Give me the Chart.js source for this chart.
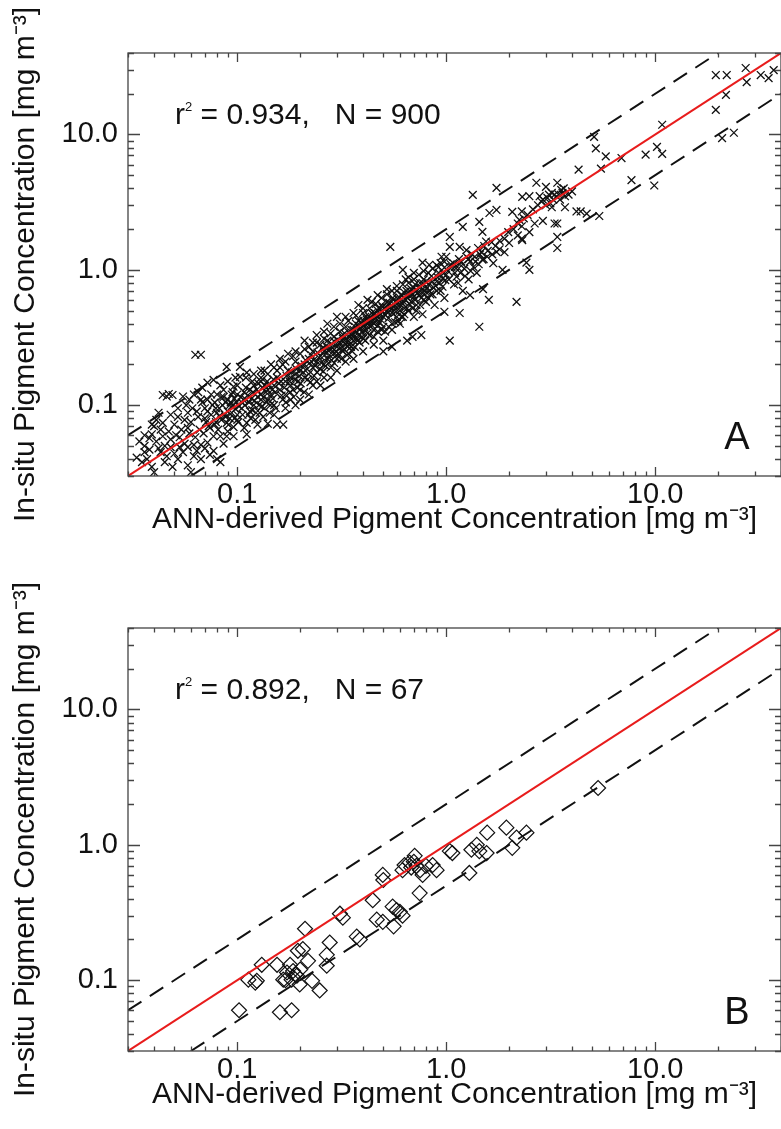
<!DOCTYPE html>
<html>
<head>
<meta charset="utf-8">
<script src="https://cdn.jsdelivr.net/npm/chart.js@4.4.1/dist/chart.umd.min.js"></script>
<style>
  html, body { margin: 0; padding: 0; background: #fff; overflow: hidden; }
  canvas { position: absolute; left: 0; }
  #chartA { top: 0; }
  #chartB { top: 560px; }
</style>
</head>
<body>
<canvas id="chartA" width="800" height="560"></canvas>
<canvas id="chartB" width="800" height="575"></canvas>
<script>
// tick positions (log axes, 0.03 .. 40) and the labelled ones
const tickVals = [0.03, 0.04, 0.05, 0.06, 0.07, 0.08, 0.09,
  0.1, 0.2, 0.3, 0.4, 0.5, 0.6, 0.7, 0.8, 0.9,
  1, 2, 3, 4, 5, 6, 7, 8, 9, 10, 20, 30, 40];
const majorVals = [0.1, 1, 10];
const majorLabels = ['0.1', '1.0', '10.0'];

const xTitle = 'ANN-derived Pigment Concentration [mg m⁻³]';
const yTitle = 'In-situ Pigment Concentration [mg m⁻³]';

// panel statistics
const statR2 = ['0.934', '0.892'];
const statN = ['900', '67'];
const panelLetters = ['A', 'B'];

// reference lines: 1:1 and factor-of-two
const oneX = [0.03, 40], oneY = [0.03, 40];
const upX = [0.03, 20], upY = [0.06, 40];
const loX = [0.06, 40], loY = [0.03, 20];

// panel A: ANN-derived vs in-situ (subset of the cloud)
const ptsA = [
  [0.034,0.054],[0.039,0.061],[0.036,0.045],[0.037,0.040],[0.041,0.054],[0.044,0.059],[0.046,0.042],
  [0.044,0.074],[0.042,0.088],[0.046,0.116],[0.049,0.119],[0.055,0.116],[0.052,0.082],[0.058,0.088],
  [0.048,0.049],[0.053,0.049],[0.058,0.049],[0.062,0.051],[0.067,0.051],[0.072,0.053],[0.077,0.059],
  [0.083,0.059],[0.089,0.059],[0.096,0.059],[0.067,0.040],[0.058,0.036],[0.049,0.035],[0.040,0.032],
  [0.067,0.110],[0.072,0.147],[0.077,0.154],[0.086,0.130],[0.096,0.137],[0.103,0.162],[0.111,0.174],
  [0.072,0.110],[0.080,0.088],[0.089,0.074],[0.096,0.069],[0.111,0.074],[0.122,0.078],[0.103,0.192],
  [0.089,0.192],[0.063,0.236],[0.067,0.236],[0.083,0.038],[0.060,0.032],[0.080,0.040],[0.111,0.061],
  [0.044,0.119],[0.047,0.121],
  [0.035,0.038],[0.036,0.050],[0.038,0.047],[0.039,0.035],[0.040,0.070],[0.041,0.078],[0.043,0.066],
  [0.045,0.050],[0.047,0.064],[0.050,0.072],[0.051,0.060],[0.054,0.066],[0.056,0.078],[0.057,0.100],
  [0.059,0.110],[0.061,0.095],[0.062,0.120],[0.065,0.125],[0.068,0.105],[0.070,0.080],[0.073,0.070],
  [0.076,0.100],[0.079,0.075],[0.082,0.083],[0.084,0.115],[0.087,0.085],[0.092,0.080],[0.094,0.120],
  [0.098,0.094],[0.100,0.078],[0.052,0.040],[0.055,0.045],[0.064,0.046],[0.070,0.048],[0.074,0.043],
  [0.086,0.052],[0.090,0.064],[0.033,0.041],[0.038,0.057],[0.043,0.045],
  [0.042,0.048],[0.045,0.038],[0.048,0.056],[0.050,0.044],[0.053,0.058],[0.056,0.052],[0.059,0.062],
  [0.063,0.058],[0.066,0.066],[0.069,0.062],[0.071,0.075],[0.074,0.068],[0.078,0.072],[0.081,0.066],
  [0.084,0.078],[0.088,0.082],[0.091,0.072],[0.094,0.088],[0.097,0.080],[0.065,0.082],[0.072,0.090],
  [0.079,0.095],[0.086,0.115],[0.093,0.105],[0.058,0.068],[0.052,0.095],[0.048,0.085],[0.068,0.135],
  [0.075,0.120],[0.083,0.140],[0.090,0.150],[0.098,0.160],[0.036,0.060],[0.039,0.072],[0.062,0.042],
  [0.077,0.046],
  [0.085,0.10],[0.09,0.11],[0.095,0.10],[0.10,0.12],[0.105,0.095],[0.11,0.11],[0.115,0.13],[0.12,0.10],
  [0.125,0.115],[0.10,0.085],[0.09,0.09],[0.08,0.12],[0.078,0.105],[0.13,0.12],[0.135,0.14],[0.14,0.11],
  [0.12,0.14],[0.13,0.16],[0.06,0.075],[0.064,0.09],[0.07,0.095],[0.075,0.085],[0.105,0.105],[0.108,0.125],
  [0.115,0.09],
  [0.082,0.095],[0.088,0.105],[0.092,0.100],[0.097,0.112],[0.099,0.105],[0.102,0.098],[0.104,0.115],
  [0.107,0.110],[0.109,0.100],[0.112,0.118],[0.114,0.105],[0.117,0.112],[0.119,0.125],[0.121,0.108],
  [0.124,0.130],[0.127,0.100],[0.129,0.120],[0.132,0.135],[0.134,0.115],[0.137,0.125],[0.139,0.150],
  [0.142,0.140],[0.144,0.100],[0.147,0.130],[0.149,0.155],[0.110,0.135],[0.100,0.140],[0.095,0.125],
  [0.118,0.150],[0.126,0.145],[0.106,0.085],[0.116,0.080],[0.128,0.088],[0.133,0.082],
  [0.101,0.075],[0.108,0.068],[0.113,0.085],[0.118,0.092],[0.123,0.088],[0.131,0.098],[0.138,0.105],
  [0.143,0.088],[0.148,0.112],[0.153,0.095],[0.163,0.118],[0.171,0.105],[0.179,0.125],[0.186,0.115],
  [0.194,0.135],[0.201,0.145],[0.209,0.125],[0.217,0.155],[0.224,0.148],[0.233,0.165],[0.241,0.175],
  [0.249,0.185],[0.258,0.178],[0.265,0.195],[0.274,0.205],[0.283,0.215],[0.291,0.205],[0.299,0.235],
  [0.11,0.16],[0.12,0.17],[0.135,0.18],[0.15,0.19],[0.165,0.20],[0.185,0.23],[0.20,0.24],[0.22,0.27],
  [0.24,0.29],[0.26,0.31],[0.28,0.34],[0.29,0.38],
  [0.13,0.11],[0.13,0.15],[0.135,0.095],[0.14,0.13],[0.14,0.17],[0.145,0.12],[0.15,0.14],[0.15,0.10],
  [0.155,0.16],[0.16,0.13],[0.16,0.19],[0.165,0.11],[0.17,0.15],[0.17,0.12],[0.175,0.18],[0.18,0.14],
  [0.18,0.16],[0.185,0.13],[0.19,0.17],[0.19,0.21],[0.195,0.15],[0.20,0.18],[0.20,0.13],[0.125,0.072],
  [0.14,0.073],[0.155,0.072],[0.166,0.072],[0.145,0.20],[0.16,0.22],[0.175,0.24],[0.13,0.18],[0.15,0.085],
  [0.17,0.095],[0.19,0.10],
  [0.152,0.125],[0.158,0.145],[0.162,0.150],[0.168,0.135],[0.172,0.165],[0.178,0.150],[0.182,0.175],
  [0.188,0.155],[0.192,0.185],[0.198,0.165],[0.203,0.195],[0.207,0.175],[0.212,0.215],[0.216,0.185],
  [0.222,0.205],[0.226,0.235],[0.232,0.215],[0.236,0.195],[0.242,0.245],[0.246,0.225],[0.252,0.205],
  [0.256,0.265],[0.262,0.235],[0.266,0.275],[0.272,0.255],[0.276,0.235],[0.282,0.285],[0.286,0.265],
  [0.292,0.295],[0.296,0.250],[0.302,0.305],[0.306,0.285],[0.312,0.265],[0.316,0.325],[0.322,0.295],
  [0.326,0.340],[0.332,0.310],[0.336,0.275],[0.342,0.345],[0.346,0.320],[0.352,0.360],[0.356,0.340],
  [0.362,0.320],[0.366,0.380],[0.372,0.350],[0.376,0.300],[0.382,0.385],[0.386,0.365],[0.392,0.410],
  [0.396,0.345],[0.402,0.420],[0.406,0.375],[0.412,0.355],[0.416,0.430],[0.422,0.405],[0.426,0.455],
  [0.432,0.385],[0.436,0.440],[0.442,0.415],[0.446,0.470],[0.452,0.400],[0.456,0.480],[0.462,0.420],
  [0.466,0.455],[0.472,0.390],[0.476,0.520],[0.482,0.470],[0.486,0.430],[0.492,0.500],[0.496,0.530],
  [0.18,0.11],[0.20,0.11],[0.23,0.14],[0.26,0.16],[0.30,0.18],[0.33,0.21],[0.21,0.26],[0.23,0.29],
  [0.19,0.25],[0.33,0.45],[0.36,0.48],[0.40,0.52],[0.44,0.58],[0.17,0.21],[0.155,0.18],
  [0.21,0.20],[0.21,0.16],[0.22,0.22],[0.22,0.17],[0.23,0.19],[0.23,0.25],[0.24,0.21],[0.24,0.15],
  [0.25,0.23],[0.25,0.28],[0.26,0.20],[0.26,0.25],[0.27,0.22],[0.27,0.30],[0.28,0.26],[0.28,0.19],
  [0.29,0.24],[0.29,0.32],[0.30,0.27],[0.30,0.22],[0.31,0.35],[0.31,0.29],[0.32,0.25],[0.32,0.31],
  [0.33,0.28],[0.33,0.38],[0.34,0.30],[0.34,0.24],[0.35,0.33],[0.35,0.27],[0.22,0.12],[0.25,0.14],
  [0.28,0.16],[0.21,0.30],[0.24,0.33],[0.27,0.40],[0.30,0.45],[0.26,0.35],
  [0.305,0.24],[0.315,0.22],[0.325,0.26],[0.335,0.235],[0.345,0.28],[0.355,0.25],[0.365,0.27],
  [0.375,0.31],[0.385,0.29],[0.395,0.32],[0.41,0.30],[0.43,0.33],[0.45,0.32],[0.47,0.35],[0.49,0.36],
  [0.51,0.35],[0.53,0.38],[0.55,0.36],[0.57,0.41],[0.59,0.42],[0.61,0.45],[0.63,0.47],[0.66,0.50],
  [0.69,0.52],[0.72,0.50],[0.75,0.55],[0.78,0.60],[0.82,0.62],[0.86,0.66],[0.90,0.70],
  [0.31,0.40],[0.34,0.42],[0.37,0.46],[0.40,0.48],[0.43,0.52],[0.46,0.56],[0.49,0.62],[0.52,0.66],
  [0.55,0.70],[0.58,0.76],[0.62,0.78],[0.66,0.88],[0.70,0.85],[0.74,0.92],[0.78,0.98],[0.82,0.95],
  [0.86,1.02],[0.90,1.08],[0.94,1.12],[0.98,1.15],
  [0.36,0.36],[0.36,0.30],[0.37,0.40],[0.38,0.33],[0.38,0.42],[0.39,0.37],[0.40,0.39],[0.40,0.31],
  [0.41,0.45],[0.42,0.38],[0.42,0.34],[0.43,0.42],[0.44,0.48],[0.44,0.39],[0.45,0.36],[0.46,0.44],
  [0.47,0.50],[0.48,0.41],[0.48,0.46],[0.49,0.55],[0.50,0.45],[0.50,0.38],[0.52,0.50],[0.52,0.58],
  [0.53,0.44],[0.54,0.53],[0.55,0.48],[0.56,0.60],[0.57,0.52],[0.58,0.45],[0.59,0.57],[0.60,0.62],
  [0.60,0.50],[0.40,0.25],[0.45,0.28],[0.50,0.30],[0.38,0.55],[0.42,0.60],[0.47,0.65],[0.52,0.72],
  [0.36,0.22],
  [0.505,0.47],[0.515,0.53],[0.525,0.48],[0.535,0.57],[0.545,0.51],[0.555,0.62],[0.565,0.55],
  [0.575,0.49],[0.585,0.61],[0.595,0.54],[0.61,0.66],[0.62,0.59],[0.63,0.52],[0.645,0.70],[0.655,0.62],
  [0.665,0.56],[0.675,0.69],[0.69,0.66],[0.70,0.74],[0.71,0.60],[0.725,0.71],[0.74,0.65],[0.75,0.80],
  [0.77,0.72],[0.78,0.66],[0.80,0.82],[0.81,0.74],[0.83,0.70],[0.86,0.82],[0.89,0.76],[0.91,0.88],
  [0.93,0.80],[0.97,0.94],[0.99,0.84],[0.55,0.40],[0.62,0.45],[0.58,0.70],[0.66,0.80],
  [0.62,0.56],[0.63,0.68],[0.64,0.60],[0.65,0.52],[0.66,0.65],[0.68,0.72],[0.68,0.58],[0.70,0.63],
  [0.71,0.78],[0.72,0.55],[0.73,0.68],[0.75,0.74],[0.76,0.62],[0.78,0.85],[0.79,0.70],[0.80,0.58],
  [0.82,0.78],[0.84,0.66],[0.85,0.90],[0.87,0.74],[0.88,0.55],[0.90,0.82],[0.92,0.95],[0.94,0.70],
  [0.96,0.86],[0.98,0.62],[1.0,0.92],[0.64,0.85],[0.70,0.95],[0.60,0.40],[0.70,0.45],
  [0.54,1.48],[0.62,1.0],[0.77,1.13],[0.83,1.09],[0.95,1.25],[1.04,1.48],[1.16,1.48],[1.25,1.40],
  [1.34,3.58],[1.74,4.03],[1.44,2.26],[1.61,2.63],[1.74,2.77],[2.07,2.68],[2.24,2.34],[2.31,3.46],
  [1.49,1.91],[1.74,1.36],[2.0,1.58],[2.31,1.66],[2.42,1.13],[1.20,2.08],[1.04,1.75],[1.0,1.25],
  [1.12,0.89],[1.49,1.19],[1.86,1.0],[0.77,0.80],[0.96,0.75],
  [1.05,1.1],[1.1,1.05],[1.1,0.95],[1.15,1.2],[1.2,1.1],[1.25,1.25],[1.3,1.15],[1.2,0.7],[1.3,0.65],
  [1.5,0.72],[1.6,0.6],[1.35,1.05],[1.45,1.3],[0.92,1.05],[0.98,1.04],[1.55,1.62],[1.65,1.6],[1.8,1.64],
  [1.02,0.98],[1.06,1.05],[1.08,1.12],[1.13,1.05],[1.18,1.15],[1.22,1.02],[1.28,1.2],[1.33,1.3],
  [1.38,1.15],[1.42,1.45],[1.47,1.35],[1.52,1.5],[1.57,1.25],[1.14,0.8],[1.28,0.85],[1.4,0.95],
  [1.03,0.85],[1.09,0.78],[1.17,0.95],[1.23,0.90],[1.31,0.98],[1.37,1.25],[1.43,1.1],[1.51,1.2],
  [1.58,1.38],[1.66,1.3],[1.72,1.5],[1.8,1.42],[1.9,1.7],[1.98,1.9],[2.1,2.0],[2.2,2.2],[2.35,2.4],
  [2.45,2.55],[2.6,2.8],[2.75,3.0],[2.85,3.2],[3.05,3.4],[3.15,3.1],[3.25,3.3],[3.45,3.6],[3.55,3.9],
  [3.65,4.0],[3.85,3.6],[2.65,2.2],[2.2,1.8],[1.9,1.35],[1.68,1.12],
  [2.5,3.5],[2.8,3.5],[2.7,4.4],[3.0,4.1],[3.4,4.4],[3.2,3.7],[2.9,3.3],[3.0,3.0],[3.2,2.9],[3.5,3.3],
  [3.7,3.5],[4.0,3.8],[3.7,2.9],[4.2,2.7],[4.4,2.7],[4.7,2.6],[5.4,2.5],[2.3,2.7],[3.3,2.2],[3.4,2.2],
  [2.9,2.3],[2.3,2.1],[2.5,1.9],[2.3,1.7],[3.4,1.75],[3.4,1.45],[2.5,1.0],[3.1,3.6],[3.3,3.6],[3.6,3.7],
  [2.17,0.58],[1.44,0.38],[1.04,0.30],[1.16,0.48],[0.98,0.49],[0.77,0.47],[0.69,0.32],[0.65,0.30],
  [0.76,0.33],[0.50,0.25],[0.55,0.27],
  [4.3,5.5],[5.5,5.6],[7.7,4.6],[9.9,4.2],[5.1,9.6],[5.2,7.9],[5.8,6.9],[6.9,6.7],[9.0,7.1],[10.2,8.1],
  [10.8,7.2],[10.8,11.8],[20.9,9.4],[23.8,10.3],[19.5,15.2],[21.8,19.6],[19.5,27.5],[22.0,27.5],
  [27.1,31.0],[27.4,24.4],[32.0,27.5],[34.9,26.1],[36.9,29.9]
];

// panel B: 67 match-ups
const ptsB = [
  [5.33,2.63],[2.42,1.23],[2.17,1.13],[2.07,0.95],[1.94,1.34],[1.57,1.23],[1.56,0.87],[1.44,0.90],
  [1.40,1.0],[1.32,0.92],[1.29,0.62],[1.07,0.87],[1.04,0.90],[0.899,0.65],[0.861,0.71],[0.771,0.60],
  [0.746,0.44],[0.706,0.83],[0.668,0.74],[0.632,0.71],[0.618,0.65],[0.618,0.30],[0.579,0.33],[0.554,0.35],
  [0.497,0.60],[0.497,0.27],[0.465,0.28],[0.445,0.39],[0.386,0.20],[0.373,0.21],[0.320,0.29],[0.310,0.31],
  [0.277,0.19],[0.268,0.154],[0.268,0.128],[0.248,0.084],[0.228,0.099],[0.218,0.139],[0.211,0.24],
  [0.206,0.17],[0.199,0.093],[0.195,0.165],[0.193,0.108],[0.185,0.117],[0.182,0.101],[0.182,0.060],
  [0.179,0.130],[0.173,0.114],[0.166,0.101],[0.160,0.058],[0.155,0.130],[0.131,0.130],[0.124,0.099],
  [0.122,0.096],[0.113,0.101],[0.102,0.060],
  [0.70,0.75],[0.72,0.70],[0.68,0.68],[0.75,0.65],[0.19,0.11],[0.20,0.12],[0.17,0.10],[0.56,0.25],
  [0.60,0.32],[0.80,0.70],[0.50,0.55]
];

const FONT = "'Liberation Sans', Arial, Helvetica, sans-serif";
Chart.defaults.font.family = FONT;
Chart.defaults.color = '#111';

// frame, inward ticks on all four sides, and the in-plot texts
const framePlugin = {
  id: 'frame',
  afterDatasetsDraw(chart, args, opts) {
    const { ctx, chartArea: a, scales: { x, y } } = chart;
    ctx.save();
    ctx.strokeStyle = '#444';
    ctx.lineWidth = 1.3;
    ctx.strokeRect(a.left, a.top, a.right - a.left, a.bottom - a.top);
    ctx.beginPath();
    tickVals.forEach(v => {
      const major = majorVals.includes(v);
      const px = Math.round(x.getPixelForValue(v)) + 0.5;
      const lx = major ? 9 : 4.5;
      ctx.moveTo(px, a.bottom); ctx.lineTo(px, a.bottom - lx);
      ctx.moveTo(px, a.top); ctx.lineTo(px, a.top + lx);
      const py = Math.round(y.getPixelForValue(v)) + 0.5;
      const ly = major ? 12 : 6;
      ctx.moveTo(a.left, py); ctx.lineTo(a.left + ly, py);
      ctx.moveTo(a.right, py); ctx.lineTo(a.right - ly, py);
    });
    ctx.stroke();

    ctx.fillStyle = '#111';
    ctx.textBaseline = 'alphabetic';
    ctx.textAlign = 'left';
    let tx = a.left + 47;
    const ty = a.top + 71;
    ctx.font = '30px ' + FONT;
    ctx.fillText('r', tx, ty);
    tx += ctx.measureText('r').width;
    ctx.font = '13px ' + FONT;
    ctx.fillText('2', tx, ty - 13);
    tx += ctx.measureText('2').width;
    ctx.font = '30px ' + FONT;
    ctx.fillText(' = ' + opts.r2 + ',   N = ' + opts.n, tx, ty);

    ctx.font = '38px ' + FONT;
    ctx.textAlign = 'center';
    ctx.fillText(opts.letter, a.right - 44, a.bottom - 27);
    ctx.restore();
  }
};

function makeChart(id, pts, idx, marker, topPad) {
  const pointData = pts.map(p => ({ x: p[0], y: p[1] }));
  const pair = (xs, ys) => xs.map((v, i) => ({ x: v, y: ys[i] }));
  return new Chart(document.getElementById(id), {
    type: 'scatter',
    data: {
      datasets: [
        { type: 'line', data: pair(oneX, oneY), borderColor: 'rgb(232,28,28)', borderWidth: 2,
          pointRadius: 0, fill: false },
        { type: 'line', data: pair(upX, upY), borderColor: '#111', borderWidth: 2,
          borderDash: [16, 10], pointRadius: 0, fill: false },
        { type: 'line', data: pair(loX, loY), borderColor: '#111', borderWidth: 2,
          borderDash: [16, 10], pointRadius: 0, fill: false },
        { data: pointData, pointStyle: marker.style, pointRadius: marker.radius,
          borderColor: '#111', backgroundColor: 'rgba(0,0,0,0)', borderWidth: marker.width }
      ]
    },
    options: {
      responsive: false,
      animation: false,
      layout: { padding: { top: topPad, right: 19, bottom: 0, left: 0 } },
      plugins: {
        legend: { display: false },
        tooltip: { enabled: false },
        frame: { r2: statR2[idx], n: statN[idx], letter: panelLetters[idx] }
      },
      scales: {
        x: {
          type: 'logarithmic', min: 0.03, max: 40,
          afterBuildTicks: s => { s.ticks = tickVals.map(v => ({ value: v })); },
          afterFit: s => { s.height = 84; },
          grid: { display: false, drawTicks: false },
          border: { display: false },
          ticks: {
            autoSkip: false, maxRotation: 0, padding: 2, color: '#111',
            font: { size: 29 },
            callback: v => { const i = majorVals.indexOf(v); return i >= 0 ? majorLabels[i] : ''; }
          },
          title: { display: true, text: xTitle, color: '#111', font: { size: 30 },
            padding: { top: 0, bottom: 22 } }
        },
        y: {
          type: 'logarithmic', min: 0.03, max: 40,
          afterBuildTicks: s => { s.ticks = tickVals.map(v => ({ value: v })); },
          afterFit: s => { s.width = 128; },
          grid: { display: false, drawTicks: false },
          border: { display: false },
          ticks: {
            autoSkip: false, padding: 10, color: '#111',
            font: { size: 29 },
            callback: v => { const i = majorVals.indexOf(v); return i >= 0 ? majorLabels[i] : ''; }
          },
          title: { display: true, text: yTitle, color: '#111', font: { size: 30 },
            padding: { top: 8, bottom: 0 } }
        }
      }
    },
    plugins: [framePlugin]
  });
}

makeChart('chartA', ptsA, 0, { style: 'crossRot', radius: 5.5, width: 1.3 }, 53);
makeChart('chartB', ptsB, 1, { style: 'rectRot', radius: 7.5, width: 1.2 }, 68);
</script>
</body>
</html>
